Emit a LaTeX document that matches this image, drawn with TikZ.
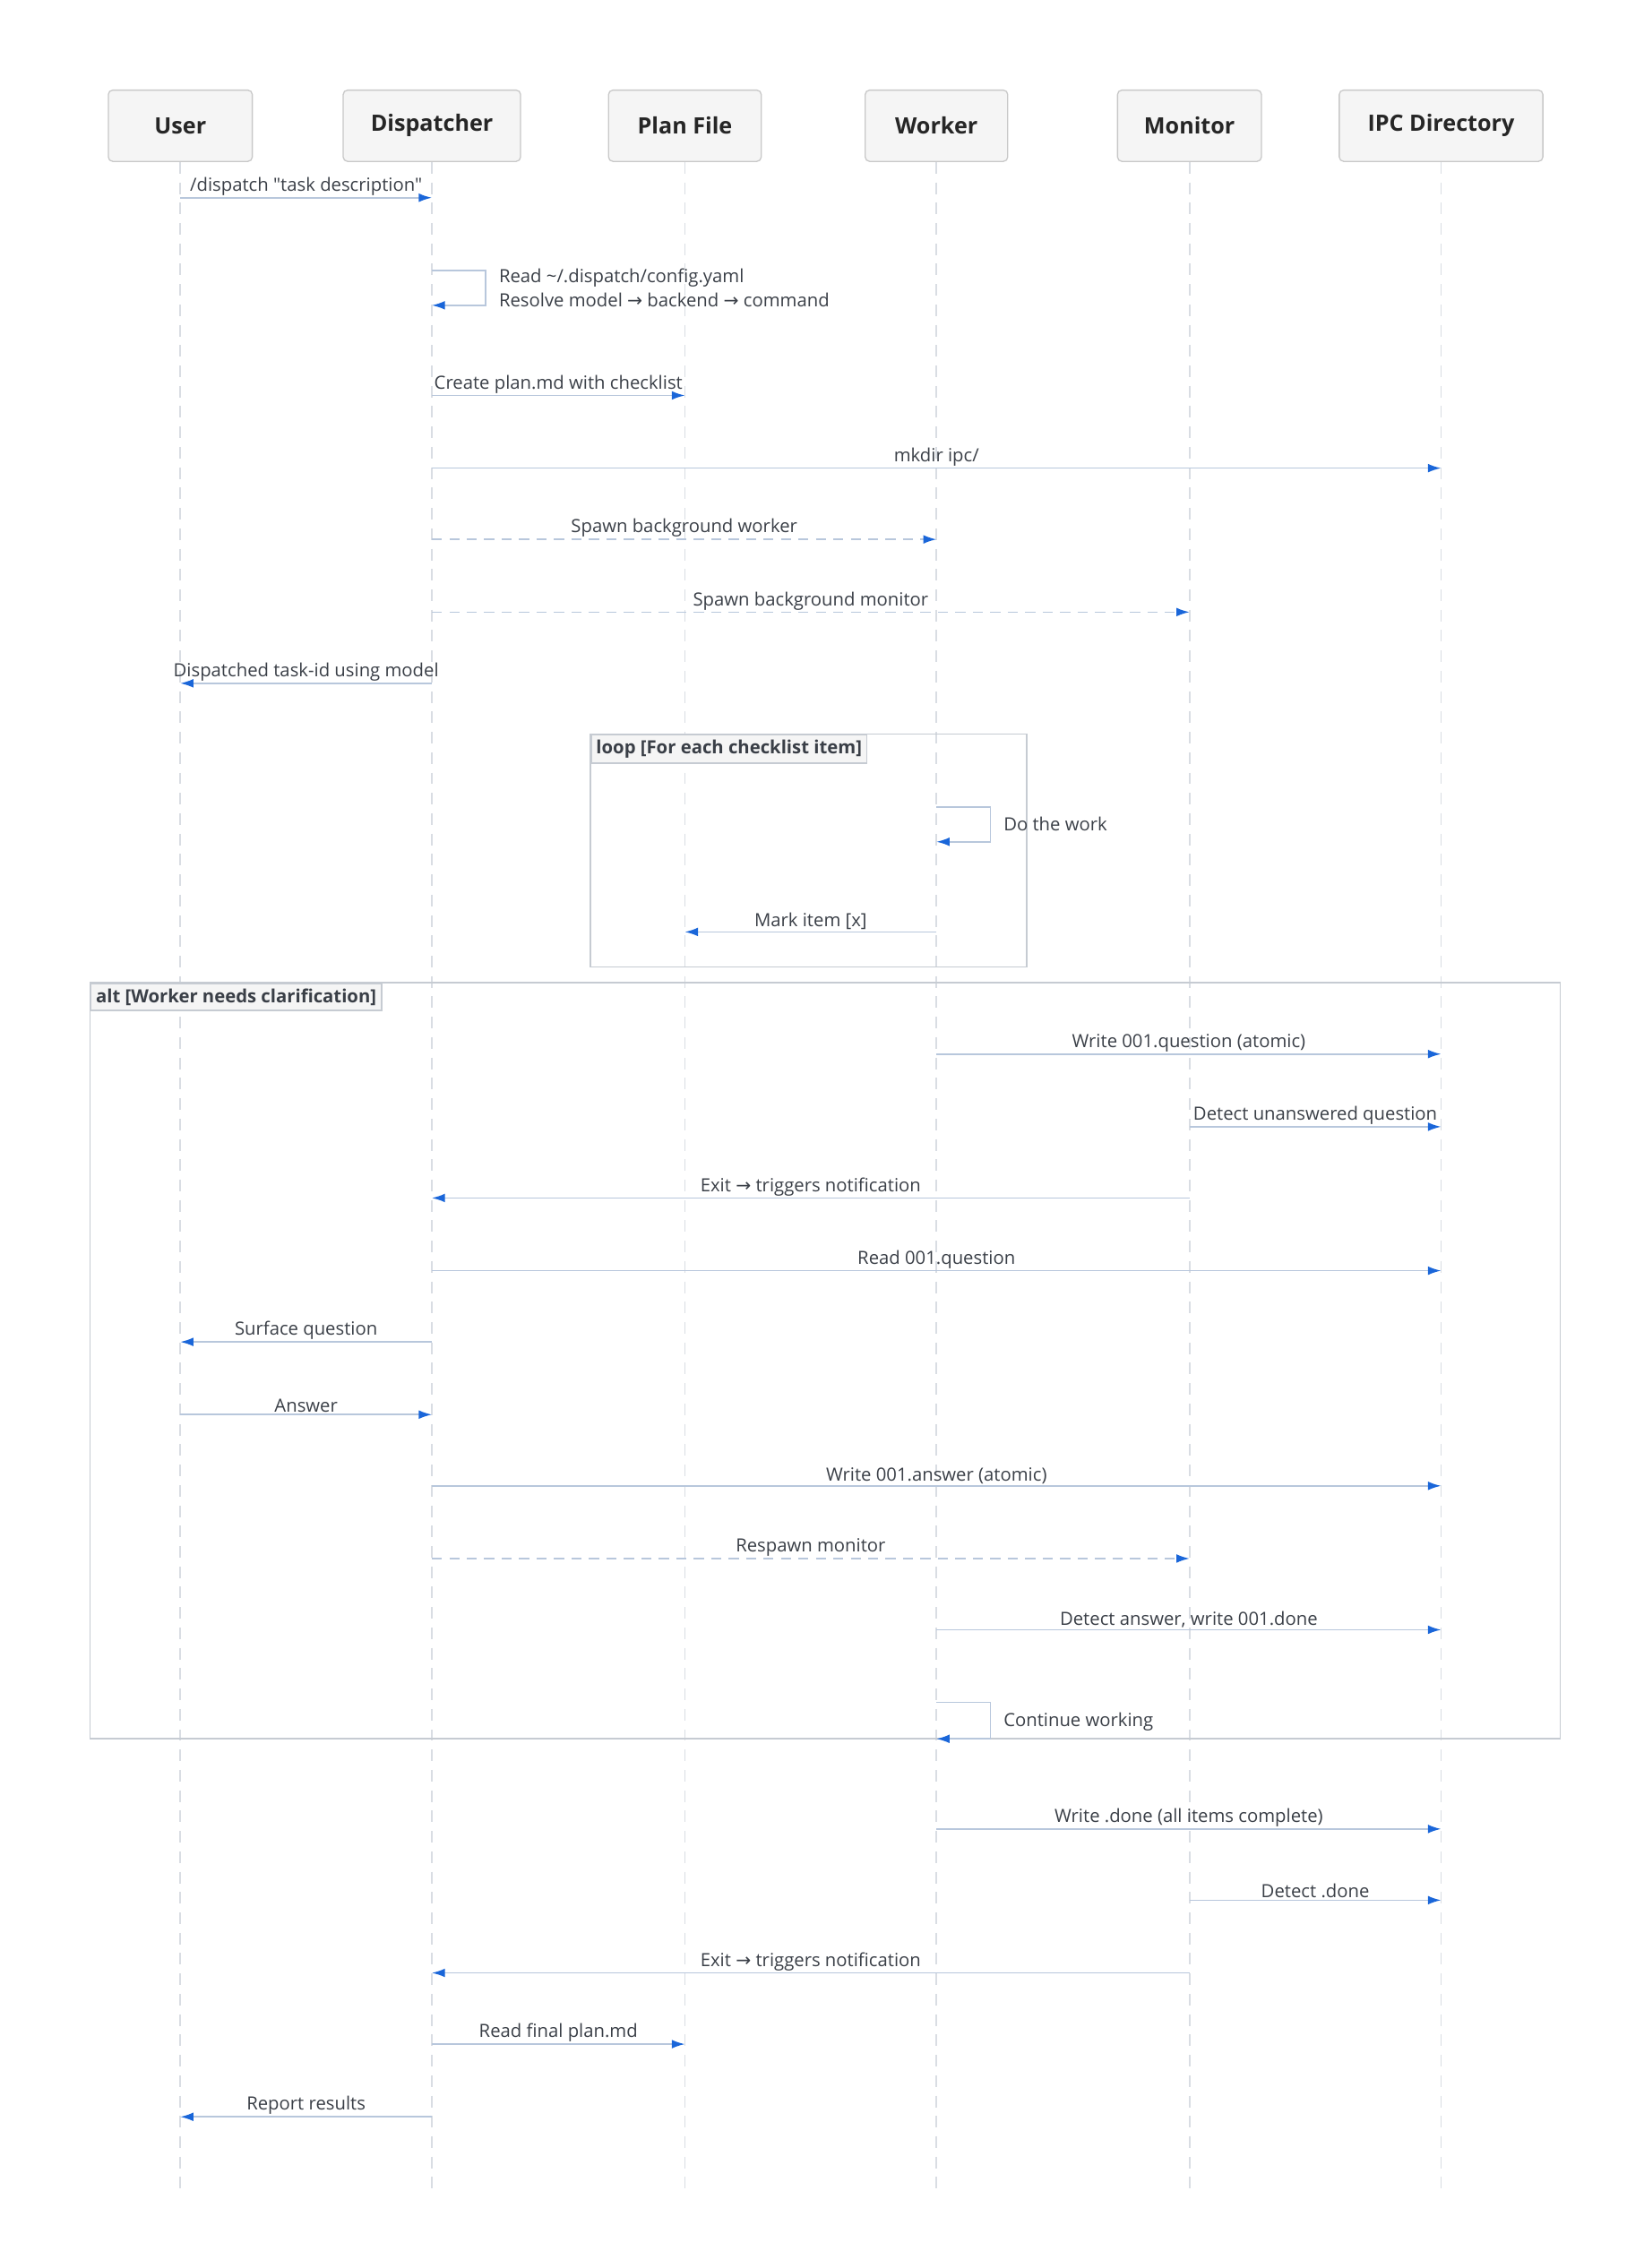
\documentclass[tikz,border=0pt]{standalone}
\usepackage{fontspec}
\setmainfont{Open Sans}[Ligatures=TeXOff]
\newfontfamily\dv{DejaVu Sans}
\usetikzlibrary{arrows.meta}
\definecolor{ln}{HTML}{B8C7DC}
\definecolor{tipc}{HTML}{1A66D9}
\definecolor{life}{HTML}{D9DDE3}
\definecolor{hdrf}{HTML}{F5F5F5}
\definecolor{hdrd}{HTML}{C8C8C8}
\definecolor{txt}{HTML}{3A3F47}
\definecolor{frame}{HTML}{C6CBD2}
\tikzset{
  hdr/.style={draw=hdrd,fill=hdrf,rounded corners=3pt,line width=0.8pt,minimum height=49pt,font=\fontsize{15.5}{18}\selectfont\bfseries,text=black!85},
  lifel/.style={draw=life,line width=1.2pt,dash pattern=on 8pt off 6pt},
  msgl/.style={draw=ln,line width=1pt,-{Latex[length=9pt,width=6pt,color=tipc]}},
  dmsg/.style={msgl,dash pattern=on 7pt off 5pt},
  lbl/.style={font=\fontsize{12.5}{15}\selectfont,text=txt,inner sep=1pt},
  frm/.style={draw=frame,line width=1pt},
  tab/.style={draw=frame,fill=hdrf,line width=1pt,font=\fontsize{12.5}{15}\selectfont\bfseries,text=txt,anchor=north west,inner sep=3.5pt}
}
\newcommand{\msgx}[5][msgl]{\draw[#1] (#2 |- 0,#4) -- (#3 |- 0,#4) node[lbl,midway,above=0pt] {#5};}
\begin{document}
\begin{tikzpicture}[x=1pt,y=-1pt]
\useasboundingbox (0,0) rectangle (1130,1560);
\foreach \n/\x/\w/\t in {u/124/99/User,d/297/122/Dispatcher,p/471/105/Plan File,w/644/98/Worker,m/818/99/Monitor,i/991/140/IPC Directory}{
  \node[hdr,minimum width=\w pt] (h\n) at (\x,86.5) {\t};
  \coordinate (\n) at (\x,1505);
  \draw[lifel] (h\n.south) -- (\n);
}
\msgx{u}{d}{136}{/dispatch "task description"}
\draw[msgl] (d |- 0,186) -- ++(37,0) |- (d |- 0,210);
\node[lbl,anchor=west,align=left] (n2) at (342,198) {Read \textasciitilde/.dispatch/config.yaml\\[2pt]Resolve model {\dv→} backend {\dv→} command};
\msgx{d}{p}{272}{Create plan.md with checklist}
\msgx{d}{i}{322}{mkdir ipc/}
\msgx[dmsg]{d}{w}{371}{Spawn background worker}
\msgx[dmsg]{d}{m}{421}{Spawn background monitor}
\msgx{d}{u}{470}{Dispatched task-id using model}
\draw[frm] (406,505) rectangle (706,665);
\node[tab] (lt) at (406,505) {loop [For each checklist item]};
\draw[msgl] (w |- 0,555) -- ++(37,0) |- (w |- 0,579);
\node[lbl,anchor=west] (n8) at (689,567) {Do the work};
\msgx{w}{p}{641}{Mark item [x]}
\draw[frm] (62,676) rectangle (1073,1196);
\node[tab] (at) at (62,676) {alt [Worker needs clarification]};
\msgx{w}{i}{725}{Write 001.question (atomic)}
\msgx{m}{i}{775}{Detect unanswered question}
\msgx{m}{d}{824}{Exit {\dv→} triggers notification}
\msgx{d}{i}{874}{Read 001.question}
\msgx{d}{u}{923}{Surface question}
\msgx{u}{d}{973}{Answer}
\msgx{d}{i}{1022}{Write 001.answer (atomic)}
\msgx[dmsg]{d}{m}{1072}{Respawn monitor}
\msgx{w}{i}{1121}{Detect answer, write 001.done}
\draw[msgl] (w |- 0,1171) -- ++(37,0) |- (w |- 0,1196);
\node[lbl,anchor=west] (n19) at (689,1184) {Continue working};
\msgx{w}{i}{1258}{Write .done (all items complete)}
\msgx{m}{i}{1307}{Detect .done}
\msgx{m}{d}{1357}{Exit {\dv→} triggers notification}
\msgx{d}{p}{1406}{Read final plan.md}
\msgx{d}{u}{1456}{Report results}
\end{tikzpicture}
\end{document}
